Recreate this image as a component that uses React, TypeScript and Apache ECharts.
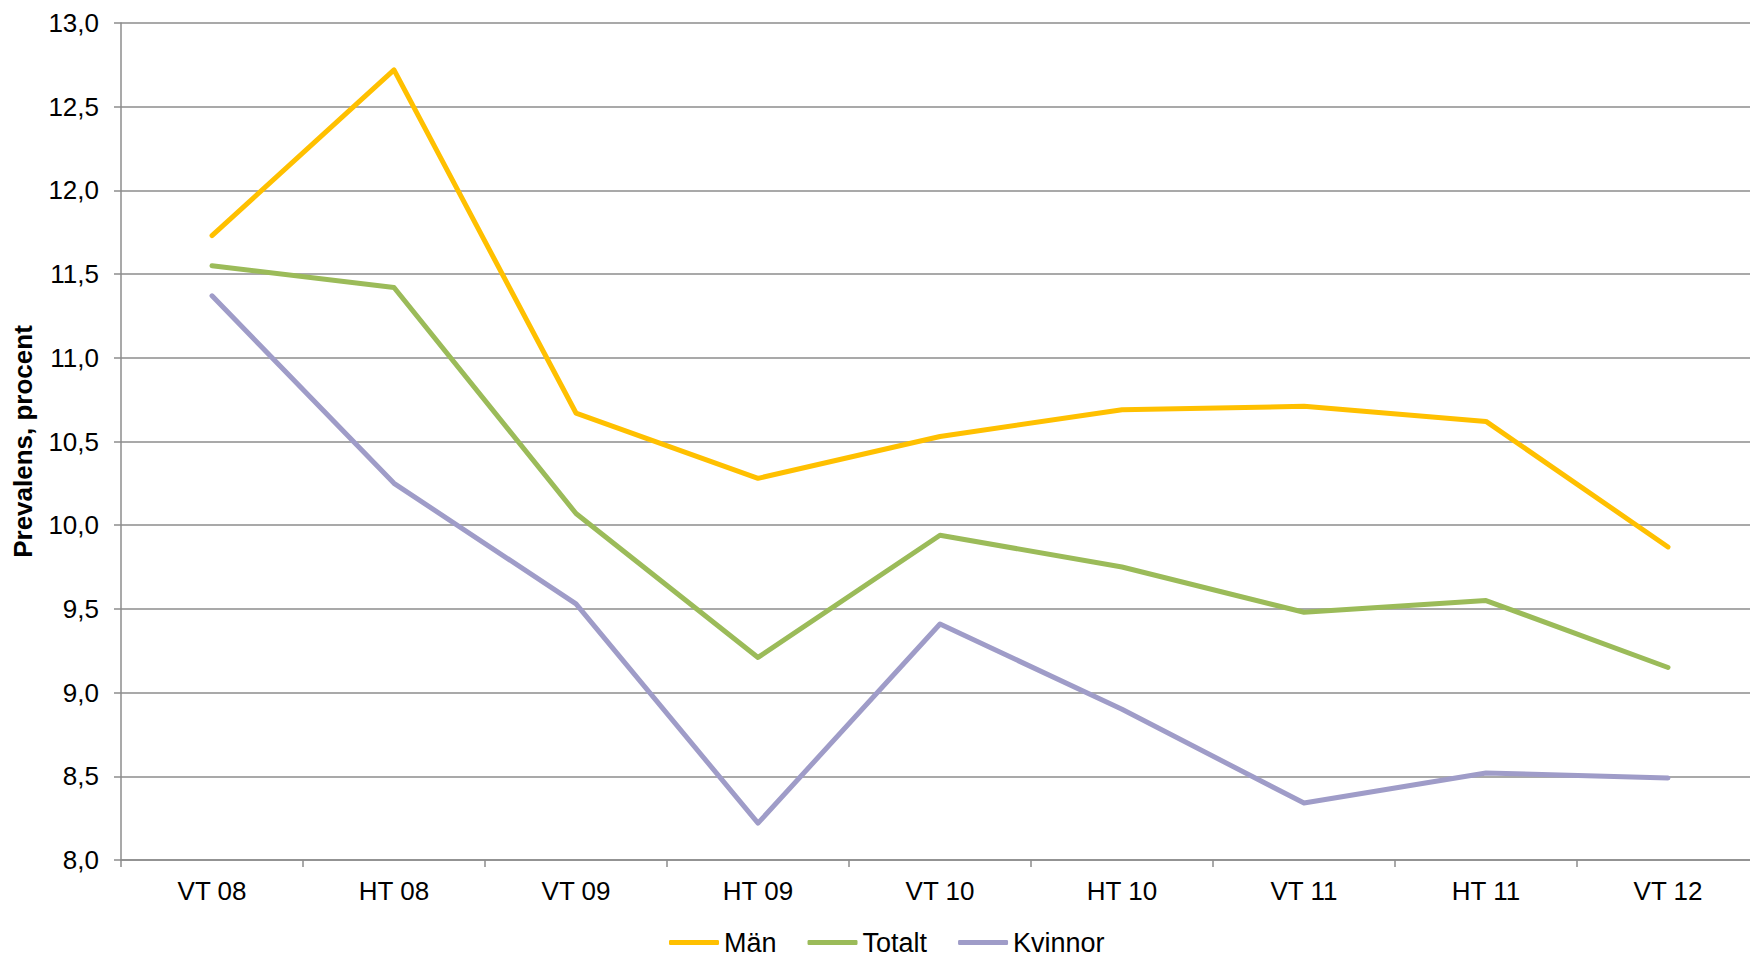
import React, { useEffect, useRef } from "react";
import * as echarts from "echarts";

const categories = ["VT 08", "HT 08", "VT 09", "HT 09", "VT 10", "HT 10", "VT 11", "HT 11", "VT 12"];
const man = [11.73, 12.72, 10.67, 10.28, 10.53, 10.69, 10.71, 10.62, 9.87];
const totalt = [11.55, 11.42, 10.07, 9.21, 9.94, 9.75, 9.48, 9.55, 9.15];
const kvinnor = [11.37, 10.25, 9.53, 8.22, 9.41, 8.9, 8.34, 8.52, 8.49];

const FONT = "Liberation Sans, Arial, sans-serif";

export default function App() {
  const ref = useRef<HTMLDivElement>(null);
  useEffect(() => {
    if (!ref.current) return;
    const chart = echarts.init(ref.current, null, { renderer: "svg" });
    const mk = (name: string, data: number[], color: string) => ({
      name,
      type: "line",
      data,
      symbol: "none",
      showSymbol: false,
      lineStyle: { color, width: 5, cap: "round", join: "round" },
      itemStyle: { color },
    });
    chart.setOption({
      animation: false,
      backgroundColor: "#ffffff",
      textStyle: { fontFamily: FONT },
      grid: {
        left: 121,
        right: -9,
        top: 23,
        bottom: 97,
        containLabel: false,
        outerBoundsMode: "none",
      },
      legend: {
        top: 929,
        left: 669,
        padding: 0,
        icon: "roundRect",
        itemWidth: 50,
        itemHeight: 5,
        itemGap: 31,
        textStyle: { fontFamily: FONT, fontSize: 27, lineHeight: 27, color: "#000" },
        data: ["Män", "Totalt", "Kvinnor"],
      },
      xAxis: {
        type: "category",
        data: categories,
        boundaryGap: true,
        axisLine: { lineStyle: { color: "#8c8c8c", width: 1.5 } },
        axisTick: { show: true, length: 7, lineStyle: { color: "#8c8c8c", width: 1.5 } },
        axisLabel: { fontFamily: FONT, fontSize: 26, color: "#000", margin: 18 },
        splitLine: { show: false },
      },
      yAxis: {
        type: "value",
        min: 8,
        max: 13,
        interval: 0.5,
        name: "Prevalens, procent",
        nameLocation: "middle",
        nameRotate: 90,
        nameGap: 85,
        nameTextStyle: { fontFamily: FONT, fontSize: 26, fontWeight: "bold", color: "#000" },
        axisLine: { show: true, lineStyle: { color: "#8c8c8c", width: 1.5 } },
        axisTick: { show: true, length: 7, lineStyle: { color: "#8c8c8c", width: 1.5 } },
        axisLabel: {
          fontFamily: FONT,
          fontSize: 26,
          color: "#000",
          margin: 22,
          formatter: (v: number) => v.toFixed(1).replace(".", ","),
        },
        splitLine: { show: true, lineStyle: { color: "#8c8c8c", width: 1.5 } },
      },
      series: [
        mk("Män", man, "#FFC000"),
        mk("Totalt", totalt, "#9BBB59"),
        mk("Kvinnor", kvinnor, "#9F9CC8"),
      ],
    });
    return () => chart.dispose();
  }, []);
  return (
    <div
      ref={ref}
      style={{ position: "fixed", left: 0, top: 0, width: 1750, height: 957, background: "#fff" }}
    />
  );
}
